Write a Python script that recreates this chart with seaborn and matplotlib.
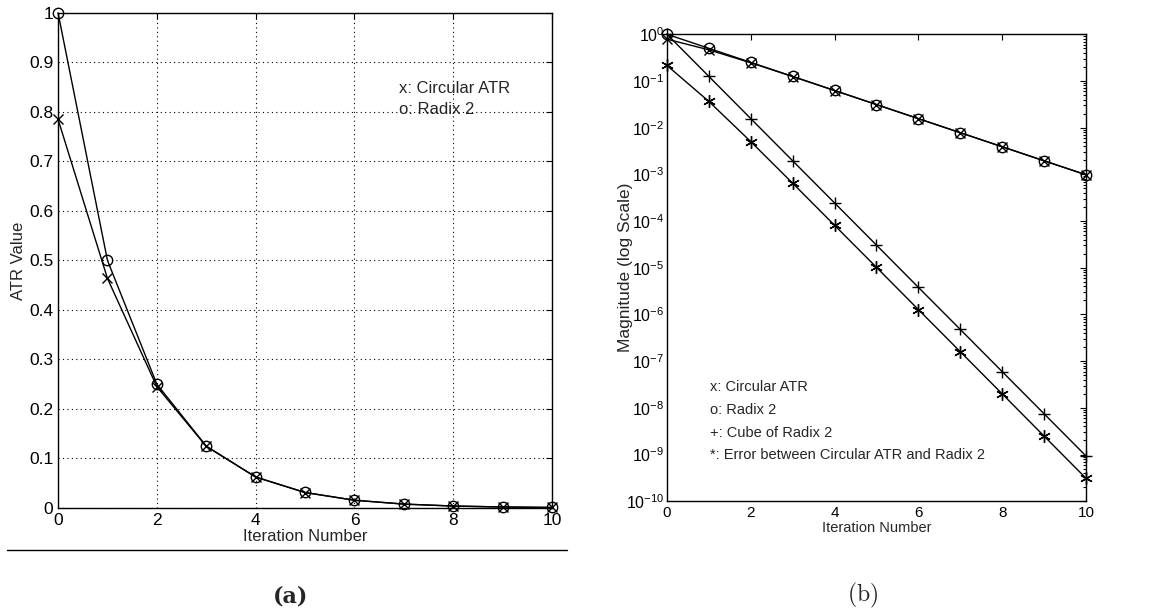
import numpy as np
import pandas as pd
import matplotlib
matplotlib.use("Agg")
import matplotlib.pyplot as plt
import matplotlib.ticker as mticker
from matplotlib.lines import Line2D
import seaborn as sns

# DATA
iterations = [0, 1, 2, 3, 4, 5, 6, 7, 8, 9, 10]
circular_atr = [0.785, 0.4636, 0.245, 0.1244, 0.0624, 0.0312, 0.0156, 0.0078, 0.0039, 0.00195, 0.00098]
radix2 = [1.0, 0.5, 0.25, 0.125, 0.0625, 0.03125, 0.0156, 0.0078, 0.0039, 0.00195, 0.00098]
cube_radix2 = [1.0, 0.125, 0.0156, 0.00195, 2.44e-4, 3.05e-5, 3.8e-6, 4.77e-7, 5.96e-8, 7.45e-9, 9.3e-10]
error_atr = [0.2146, 0.0364, 0.00502, 6.45e-4, 8.1e-5, 1.02e-5, 1.27e-6, 1.59e-7, 1.99e-8, 2.48e-9, 3.1e-10]

left_yticks = [0, 0.1, 0.2, 0.3, 0.4, 0.5, 0.6, 0.7, 0.8, 0.9, 1]
left_yticklabels = ["0", "0.1", "0.2", "0.3", "0.4", "0.5", "0.6", "0.7", "0.8", "0.9", "1"]
xticks = [0, 2, 4, 6, 8, 10]

sns.set_style("white")
plt.rcParams['font.family'] = ['Liberation Sans', 'DejaVu Sans']

fig = plt.figure(figsize=(11.61, 6.12), dpi=100)
ax1 = fig.add_axes([0.050, 0.170, 0.4255, 0.809])
ax2 = fig.add_axes([0.5745, 0.181, 0.3609, 0.763])

line_kw = dict(color="black", lw=1.0, mec="black", mew=1.0, clip_on=False)

# ---- panel (a)
df_a = pd.DataFrame({"it": iterations, "atr": circular_atr, "r2": radix2})
sns.lineplot(data=df_a, x="it", y="atr", ax=ax1, marker="x", markersize=7, **line_kw)
sns.lineplot(data=df_a, x="it", y="r2", ax=ax1, marker="o", markersize=7.5, mfc="none", **line_kw)
ax1.set_xlim(0, 10)
ax1.set_ylim(0, 1)
ax1.set_xticks(xticks)
ax1.set_xticklabels([str(t) for t in xticks])
ax1.set_yticks(left_yticks)
ax1.set_yticklabels(left_yticklabels)
ax1.grid(True, linestyle=(0, (1, 3)), color="black", lw=0.8)
ax1.set_xlabel("Iteration Number", fontsize=12, labelpad=1)
ax1.set_ylabel("ATR Value", fontsize=12, labelpad=2)
ax1.text(6.9, 0.848, "x: Circular ATR", fontsize=12, va="center")
ax1.text(6.9, 0.804, "o: Radix 2", fontsize=12, va="center")
ax1.tick_params(labelsize=12.5)

# ---- panel (b)
df_b = pd.DataFrame({"it": iterations, "atr": circular_atr, "r2": radix2,
                     "cube": cube_radix2, "err": error_atr})
sns.lineplot(data=df_b, x="it", y="atr", ax=ax2, marker="x", markersize=7, **line_kw)
sns.lineplot(data=df_b, x="it", y="r2", ax=ax2, marker="o", markersize=7.5, mfc="none", **line_kw)
sns.lineplot(data=df_b, x="it", y="cube", ax=ax2, marker="+", markersize=8, **line_kw)
sns.lineplot(data=df_b, x="it", y="err", ax=ax2, marker=(6, 2, 0), markersize=9, **line_kw)
ax2.set_yscale("log")
ax2.set_xlim(0, 10)
ax2.set_ylim(1e-10, 1)
ax2.set_xticks(xticks)
ax2.set_yticks([10.0 ** -k for k in range(11)])
ax2.yaxis.set_major_formatter(mticker.LogFormatterMathtext())
ax2.yaxis.set_minor_locator(mticker.LogLocator(base=10, subs=np.arange(2, 10), numticks=20))
ax2.yaxis.set_minor_formatter(mticker.NullFormatter())
ax2.set_xlabel("Iteration Number", fontsize=10.5, labelpad=1)
ax2.set_ylabel("Magnitude (log Scale)", fontsize=12.5, labelpad=-5)
ax2.tick_params(axis="x", labelsize=11)
ax2.tick_params(axis="y", labelsize=11.5, pad=2)
legend_b = ["x: Circular ATR", "o: Radix 2", "+: Cube of Radix 2",
            "*: Error between Circular ATR and Radix 2"]
for i, t in enumerate(legend_b):
    ax2.text(1.02, 10 ** (-7.55 - 0.49 * i), t, fontsize=10.5, va="center")

for ax in (ax1, ax2):
    ax.tick_params(which="both", direction="in", top=True, right=True,
                   length=4, width=0.8, colors="black")
    ax.tick_params(which="minor", length=2)
    for s in ax.spines.values():
        s.set_color("black")
        s.set_linewidth(1.0)
    ax.set_facecolor("white")

# separator line under panel (a)
fig.add_artist(Line2D([7 / 1161, 567 / 1161], [1 - 550 / 612, 1 - 550 / 612],
                      color="black", lw=1.0))

fig.text(291 / 1161, 1 - 596 / 612, "(a)", ha="center", va="center",
         fontsize=16, family="DejaVu Serif", fontweight="bold")
fig.text(863 / 1161, 1 - 595 / 612, r"$\mathrm{(b)}$", ha="center", va="center",
         fontsize=17, math_fontfamily="cm")

fig.savefig("out.png", dpi=100, facecolor="white")
